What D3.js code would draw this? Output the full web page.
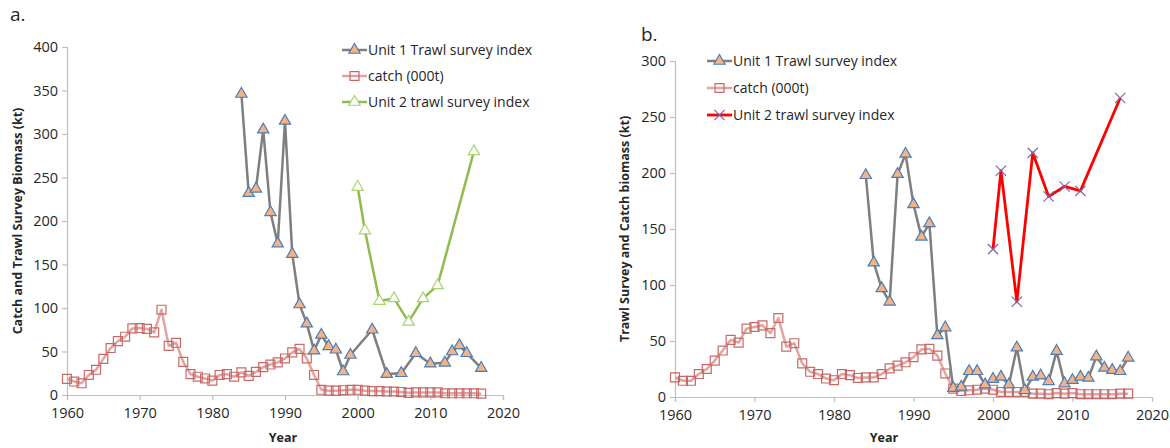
<!DOCTYPE html>
<html>
<head>
<meta charset="utf-8">
<script src="https://cdn.jsdelivr.net/npm/d3@7/dist/d3.min.js"></script>
<style>
	body { margin: 0; background: #fff; }
	text { font-family: "Open Sans", "Noto Sans", sans-serif; fill: #262626; }
</style>
</head>
<body>
<svg id="chart" width="1170" height="448"></svg>
<script>
const catchYears = [
	1960, 1961, 1962, 1963, 1964, 1965, 1966, 1967, 1968, 1969,
	1970, 1971, 1972, 1973, 1974, 1975, 1976, 1977, 1978, 1979,
	1980, 1981, 1982, 1983, 1984, 1985, 1986, 1987, 1988, 1989,
	1990, 1991, 1992, 1993, 1994, 1995, 1996, 1997, 1998, 1999,
	2000, 2001, 2002, 2003, 2004, 2005, 2006, 2007, 2008, 2009,
	2010, 2011, 2012, 2013, 2014, 2015, 2016, 2017
];
const catchA = [
	18.5, 15.5, 13.5, 23, 29, 41.5, 54, 62, 67, 76.5,
	77, 76, 72, 98, 56.5, 60, 38, 24, 21, 19,
	16.5, 23, 24, 21, 26, 22, 26.5, 32, 35, 37.5,
	42, 49, 53, 42, 23, 6, 5, 5, 5.5, 6,
	6, 5, 4.5, 4.5, 4, 4, 3.5, 2.5, 3, 3,
	3, 3, 2, 2, 2, 2, 2, 1.5
];
const catchB = [
	17.5, 14.5, 14.5, 20.5, 25, 32.5, 41.5, 51, 48.5, 61,
	62.5, 64, 57, 70.5, 45, 48, 30, 22.5, 20.5, 16.5,
	15, 20.5, 19.5, 17, 17.5, 17.5, 20.5, 25.5, 28, 31,
	35.5, 42.5, 43, 37, 21, 7.5, 5.5, 6, 6.5, 7.5,
	6.5, 4.5, 4.5, 4.5, 4.5, 3, 3, 2.5, 3.5, 3,
	3.5, 2.5, 2.5, 2.5, 2.5, 2.5, 3, 3
];

const unit1AYears = [
	1984, 1985, 1986, 1987, 1988, 1989, 1990, 1991, 1992, 1993,
	1994, 1995, 1996, 1997, 1998, 1999, 2002, 2004, 2006, 2008,
	2010, 2012, 2013, 2014, 2015, 2017
];
const unit1A = [
	346, 232, 237, 305, 210, 174, 315, 162, 104, 82,
	51, 69, 56, 52, 27, 46, 75, 24, 25, 48,
	36, 37, 50, 57, 48, 31
];

const unit1BYears = [
	1984, 1985, 1986, 1987, 1988, 1989, 1990, 1991, 1992, 1993,
	1994, 1995, 1996, 1997, 1998, 1999, 2000, 2001, 2002, 2003,
	2004, 2005, 2006, 2007, 2008, 2009, 2010, 2011, 2012, 2013,
	2014, 2015, 2016, 2017
];
const unit1B = [
	198, 120, 97, 85, 199, 217, 172, 143, 155, 55,
	62, 8, 9, 23, 23, 11, 16, 18, 11, 44,
	6, 18, 19, 14, 41, 12, 15, 18, 17, 36,
	26, 24, 23, 35
];

const unit2Years = [2000, 2001, 2003, 2005, 2007, 2009, 2011, 2016];
const unit2A = [239, 189, 108, 111, 84, 111, 126, 280];
const unit2B = [132, 202, 85, 218, 179, 188, 184, 267];

const xTicks = [1960, 1970, 1980, 1990, 2000, 2010, 2020];
const yTicksA = [0, 50, 100, 150, 200, 250, 300, 350, 400];
const yTicksB = [0, 50, 100, 150, 200, 250, 300];

const legendLabels = ["Unit 1 Trawl survey index", "catch (000t)", "Unit 2 trawl survey index"];

const zip = (xs, ys) => xs.map((x, i) => ({ x, y: ys[i] }));

const styles = {
	unit1: { line: "#7f7f7f", width: 2.5, symbol: d3.symbolTriangle, size: 55, fill: "#f6b381", stroke: "#4a7ebb", mw: 1.2 },
	catch: { line: "#dc9593", width: 2.5, symbol: d3.symbolSquare, size: 80, fill: "none", stroke: "#c0504d", mw: 1.2, opacity: 0.85 },
	unit2a: { line: "#8fbc4f", width: 2.5, symbol: d3.symbolTriangle, size: 55, fill: "#fff", stroke: "#a9d46f", mw: 1.2 },
	unit2b: { line: "#ff0000", width: 2.8, symbol: d3.symbolX, size: 70, fill: "none", stroke: "#8064a2", mw: 1.2 },
};

const svg = d3.select("#chart");

function renderPanel(p) {
	const x = d3.scaleLinear().domain([1960, 2020]).range([p.left, p.right]);
	const y = d3.scaleLinear().domain([0, p.yMax]).range([p.bottom, p.top]);
	const g = svg.append("g");

	const xAxis = g.append("g")
		.attr("transform", `translate(0,${p.bottom})`)
		.call(d3.axisBottom(x).tickValues(xTicks).tickFormat(d3.format("d")).tickSizeOuter(0).tickSize(5));
	const yAxis = g.append("g")
		.attr("transform", `translate(${p.left},0)`)
		.call(d3.axisLeft(y).tickValues(p.yTicks).tickSizeOuter(0).tickSize(5));

	[xAxis, yAxis].forEach(a => {
		a.select(".domain").attr("stroke", "#bfbfbf").attr("stroke-width", 1.2);
		a.selectAll(".tick line").attr("stroke", "#bfbfbf").attr("stroke-width", 1.2);
		a.selectAll(".tick text").style("font-size", "14.5px").attr("fill", "#262626");
	});
	xAxis.selectAll(".tick text").attr("dy", "1.0em");
	yAxis.selectAll(".tick text").attr("x", -9);

	g.append("text")
		.attr("x", p.labelX)
		.attr("y", p.labelY)
		.style("font-size", "19px")
		.text(p.label);

	g.append("text")
		.attr("transform", `translate(${p.yTitleX},${(p.top + p.bottom) / 2}) rotate(-90)`)
		.attr("text-anchor", "middle")
		.style("font-size", "12.5px")
		.style("font-weight", "bold")
		.text(p.yTitle);

	g.append("text")
		.attr("x", p.xTitleX)
		.attr("y", 442)
		.attr("text-anchor", "middle")
		.style("font-size", "12.5px")
		.style("font-weight", "bold")
		.text("Year");

	const line = d3.line().x(d => x(d.x)).y(d => y(d.y));

	p.series.forEach(s => {
		const st = styles[s.style];
		const sg = g.append("g").attr("opacity", st.opacity || 1);
		sg.append("path")
			.datum(s.data)
			.attr("d", line)
			.attr("fill", "none")
			.attr("stroke", st.line)
			.attr("stroke-width", st.width)
			.attr("stroke-linejoin", "round");
		sg.selectAll("path.mk")
			.data(s.data)
			.enter()
			.append("path")
			.attr("class", "mk")
			.attr("transform", d => `translate(${x(d.x)},${y(d.y)})`)
			.attr("d", d3.symbol().type(st.symbol).size(st.size))
			.attr("fill", st.fill)
			.attr("stroke", st.stroke)
			.attr("stroke-width", st.mw);
	});

	// legend
	p.legend.forEach((s, i) => {
		const st = styles[s];
		const ly = p.legY + i * p.legStep;
		const lg = g.append("g").attr("opacity", st.opacity || 1);
		lg.append("line")
			.attr("x1", p.legX)
			.attr("x2", p.legX + 25)
			.attr("y1", ly)
			.attr("y2", ly)
			.attr("stroke", st.line)
			.attr("stroke-width", st.width);
		lg.append("path")
			.attr("transform", `translate(${p.legX + 12.5},${ly})`)
			.attr("d", d3.symbol().type(st.symbol).size(st.size))
			.attr("fill", st.fill)
			.attr("stroke", st.stroke)
			.attr("stroke-width", st.mw);
		g.append("text")
			.attr("x", p.legX + 26)
			.attr("y", ly)
			.attr("dy", "0.35em")
			.style("font-size", "14px")
			.text(legendLabels[i]);
	});
}

renderPanel({
	left: 67, right: 503, top: 47, bottom: 395, yMax: 400, yTicks: yTicksA,
	label: "a.", labelX: 10, labelY: 21,
	yTitle: "Catch and Trawl Survey Biomass (kt)", yTitleX: 22, xTitleX: 283,
	legX: 342, legY: 50, legStep: 26,
	legend: ["unit1", "catch", "unit2a"],
	series: [
		{ style: "catch", data: zip(catchYears, catchA) },
		{ style: "unit1", data: zip(unit1AYears, unit1A) },
		{ style: "unit2a", data: zip(unit2Years, unit2A) },
	],
});

renderPanel({
	left: 675, right: 1152, top: 61, bottom: 397, yMax: 300, yTicks: yTicksB,
	label: "b.", labelX: 641, labelY: 41,
	yTitle: "Trawl Survey and Catch biomass (kt)", yTitleX: 629, xTitleX: 884,
	legX: 707, legY: 61, legStep: 27,
	legend: ["unit1", "catch", "unit2b"],
	series: [
		{ style: "catch", data: zip(catchYears, catchB) },
		{ style: "unit1", data: zip(unit1BYears, unit1B) },
		{ style: "unit2b", data: zip(unit2Years, unit2B) },
	],
});
</script>
</body>
</html>
